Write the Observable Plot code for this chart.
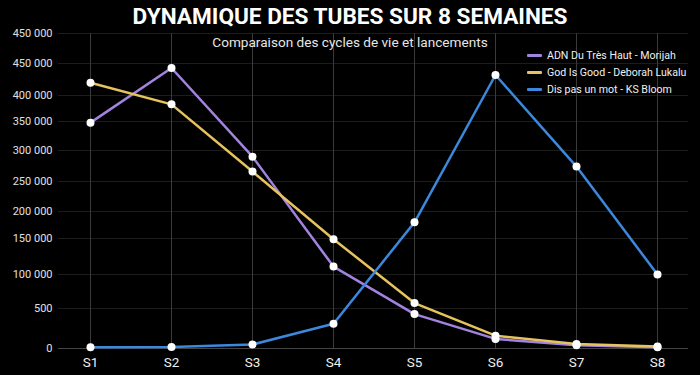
<!DOCTYPE html>
<html><head><meta charset="utf-8">
<script src="https://cdn.jsdelivr.net/npm/d3@7"></script>
<script src="https://cdn.jsdelivr.net/npm/@observablehq/plot@0.6"></script>
<style>
html,body{margin:0;padding:0;background:#000;}
#wrap{position:relative;width:700px;height:375px;background:#000;font-family:Roboto,"Noto Sans",sans-serif;overflow:hidden}
#title{position:absolute;left:0;top:4px;width:700px;text-align:center;color:#fff;font-weight:700;font-size:22.6px;line-height:26px;margin:0}
#subtitle{position:absolute;left:0;top:33px;width:700px;text-align:center;color:#e6e6e6;font-size:13.6px;line-height:18px;margin:0;font-weight:400}
#legend{position:absolute;left:527px;top:47px;color:#f0f0f0;font-size:10.6px;line-height:17px}
#legend div{display:flex;align-items:center;white-space:nowrap}
#legend span.sw{display:inline-block;width:15px;height:3px;margin-right:5px;border-radius:1px}
</style></head>
<body>
<div id="wrap">
<div id="chart"></div>
<h1 id="title"></h1>
<h2 id="subtitle"></h2>
<div id="legend"></div>
</div>
<script>
const titleText = "DYNAMIQUE DES TUBES SUR 8 SEMAINES";
const subtitleText = "Comparaison des cycles de vie et lancements";
const weeks = ["S1","S2","S3","S4","S5","S6","S7","S8"];
const seriesNames = ["ADN Du Très Haut - Morijah","God Is Good - Deborah Lukalu","Dis pas un mot - KS Bloom"];
const seriesColors = ["#a383e0","#e6c35c","#3b88dc"];
const adn = [348000, 443000, 290000, 111000, 43000, 12000, 4000, 1500];
const god = [420000, 383000, 266000, 149000, 58000, 16000, 5500, 2500];
const dis = [1500, 2000, 5000, 31000, 180000, 432000, 274000, 100000];
const yTicks = [0, 50000, 100000, 150000, 200000, 250000, 300000, 350000, 400000, 450000, 500000];
const yTickLabels = ["0","500","100 000","150 000","200 000","250 000","300 000","350 000","400 000","450 000","450 000"];

const allSeries = [adn, god, dis];
const data = [];
allSeries.forEach((vals, s) => vals.forEach((v, i) => data.push({week: weeks[i], value: v, series: seriesNames[s]})));
const labelMap = new Map(yTicks.map((t, i) => [t, yTickLabels[i]]));

document.getElementById("title").textContent = titleText;
document.getElementById("subtitle").textContent = subtitleText;
const leg = document.getElementById("legend");
seriesNames.forEach((n, i) => {
  const d = document.createElement("div");
  d.innerHTML = `<span class="sw" style="background:${seriesColors[i]}"></span><span></span>`;
  d.lastChild.textContent = n;
  leg.appendChild(d);
});

const chart = Plot.plot({
  width: 700, height: 375,
  marginTop: 33, marginBottom: 27, marginLeft: 58, marginRight: 12,
  style: {background: "#000", color: "#e8e8e8", fontFamily: "Roboto, 'Noto Sans', sans-serif"},
  x: {type: "point", domain: weeks, padding: 0.35},
  y: {type: "linear", domain: yTicks, range: [348, 308, 274, 238, 211, 181, 150, 121, 95, 63, 33]},
  color: {domain: seriesNames, range: seriesColors},
  marks: [
    Plot.ruleY(yTicks.slice(1), {stroke: "#1c1c1c", strokeWidth: 1}),
    Plot.ruleX(weeks, {stroke: "#3a3a3a", strokeWidth: 1}),
    Plot.ruleY([0], {stroke: "#444", strokeWidth: 1}),
    Plot.axisY(yTicks, {tickSize: 0, tickPadding: 6, fontSize: 11, fill: "#e0e0e0", tickFormat: d => labelMap.get(d), label: null}),
    Plot.axisX({tickSize: 0, tickPadding: 9, fontSize: 13.5, fill: "#eeeeee", label: null}),
    Plot.line(data, {x: "week", y: "value", z: "series", stroke: "series", strokeWidth: 2.5}),
    Plot.dot(data, {x: "week", y: "value", r: 4, fill: "#ffffff", stroke: "none"})
  ]
});
document.getElementById("chart").appendChild(chart);
</script>
</body></html>
